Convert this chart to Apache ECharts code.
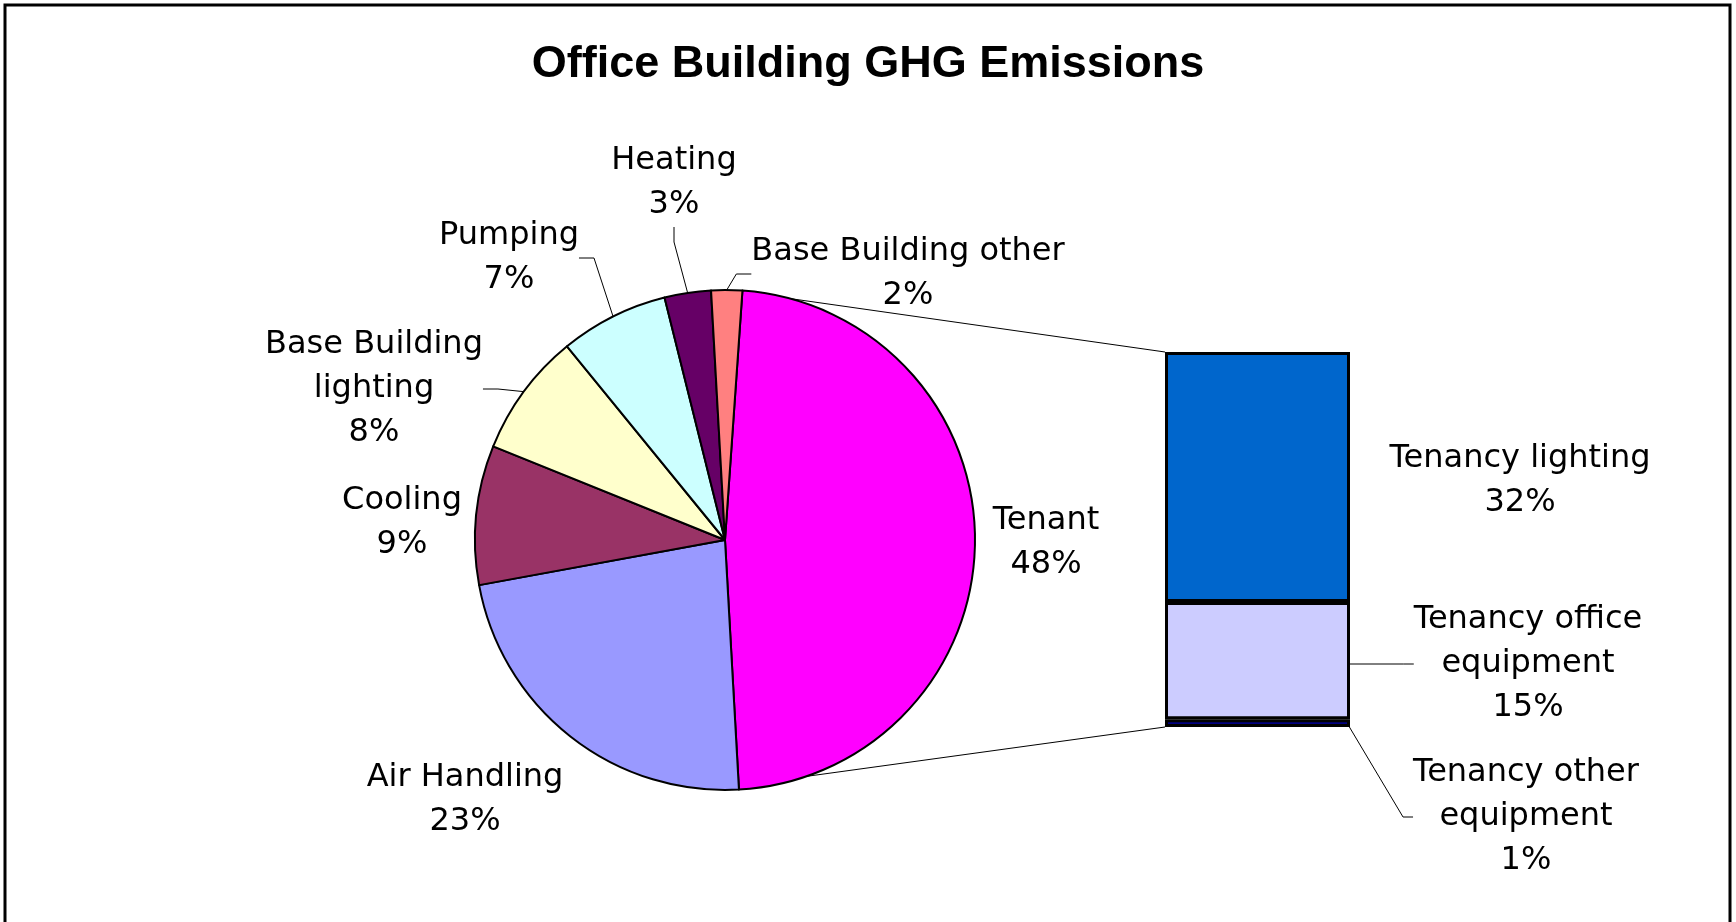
<!DOCTYPE html>
<html>
<head>
<meta charset="utf-8">
<script src="https://cdn.jsdelivr.net/npm/echarts@6/dist/echarts.min.js"></script>
<style>
    html, body { margin: 0; padding: 0; background: #fff; }
    #main { width: 1736px; height: 922px; }
</style>
</head>
<body>
<div id="main"></div>
<script>
// pie: clockwise from Tenant
var pieNames = ['Tenant', 'Air Handling', 'Cooling', 'Base Building\nlighting', 'Pumping', 'Heating', 'Base Building other']
var pieValues = [48, 23, 9, 8, 7, 3, 2]
var pieColors = ['#ff00ff', '#9999ff', '#993366', '#ffffcc', '#ccffff', '#660066', '#ff8080']
var pieLeader = [false, false, false, true, true, true, true]

// tenant breakdown, bottom to top
var barNames = ['Tenancy other\nequipment', 'Tenancy office\nequipment', 'Tenancy lighting']
var barValues = [1, 15, 32]
var barColors = ['#000080', '#ccccff', '#0066cc']
var barLeader = [true, true, false]

// label centres (px)
var pieLabelAt = [[1046, 543], [465, 800], [402, 523], [374, 389], [509, 258], [674, 183], [908, 274]]
var barLabelAt = [[1526, 817], [1528, 664], [1520, 481]]

var pieCenter = [725, 540], pieRadius = 250
var barBox = { left: 1165, top: 352, width: 185, height: 375 }

function labelText() {
    return {
        show: true,
        color: '#000',
        fontFamily: 'DejaVu Sans',
        fontSize: 32,
        lineHeight: 44,
        align: 'center'
    }
}

function onPie(deg) {
    var a = deg * Math.PI / 180
    return [pieCenter[0] + pieRadius * Math.sin(a), pieCenter[1] - pieRadius * Math.cos(a)]
}

var pieData = []
for (var i in pieNames) {
    pieData.push({
        name: pieNames[i],
        value: pieValues[i],
        itemStyle: { color: pieColors[i] },
        labelLine: { show: pieLeader[i] }
    })
}

var barSeries = []
for (var j in barNames) {
    var lab = labelText()
    lab.position = 'right'
    lab.formatter = '{a}\n{c}%'
    barSeries.push({
        name: barNames[j],
        type: 'bar',
        stack: 'tenant',
        barWidth: '100%',
        data: [barValues[j]],
        itemStyle: { color: barColors[j], borderColor: '#000', borderWidth: 3 },
        label: lab,
        labelLine: { show: barLeader[j], length2: 10, lineStyle: { color: '#000', width: 1 } },
        labelLayout: { x: barLabelAt[j][0], y: barLabelAt[j][1], align: 'center', verticalAlign: 'middle' },
        emphasis: { disabled: true }
    })
}

var pieLabel = labelText()
pieLabel.position = 'outside'
pieLabel.formatter = '{b}\n{c}%'

var myChart = echarts.init(document.getElementById('main'))
var topLine = onPie(15), lowLine = onPie(161)
myChart.setOption({
    animation: false,
    backgroundColor: '#fff',
    title: {
        text: 'Office Building GHG Emissions',
        left: 'center',
        top: 42,
        padding: 0,
        textStyle: { fontFamily: 'Liberation Sans', fontWeight: 'bold', fontSize: 45, color: '#000' }
    },
    grid: barBox,
    xAxis: { type: 'category', data: ['Tenant'], show: false },
    yAxis: { type: 'value', min: 0, max: 48, show: false },
    graphic: [
        { type: 'rect', shape: { x: 5, y: 5, width: 1725, height: 960 }, style: { fill: 'none', stroke: '#000', lineWidth: 3 } },
        { type: 'polyline', shape: { points: [topLine, [barBox.left, barBox.top]] }, style: { stroke: '#000', lineWidth: 1 } },
        { type: 'polyline', shape: { points: [lowLine, [barBox.left, barBox.top + barBox.height]] }, style: { stroke: '#000', lineWidth: 1 } }
    ],
    series: [{
        type: 'pie',
        center: pieCenter,
        radius: pieRadius,
        startAngle: 86,
        clockwise: true,
        avoidLabelOverlap: false,
        data: pieData,
        itemStyle: { borderColor: '#000', borderWidth: 2 },
        label: pieLabel,
        labelLine: { length: 10, length2: 15, lineStyle: { color: '#000', width: 1 } },
        labelLayout: function (p) {
            var at = pieLabelAt[p.dataIndex]
            return { x: at[0], y: at[1], align: 'center', verticalAlign: 'middle' }
        },
        emphasis: { disabled: true }
    }].concat(barSeries)
})
</script>
</body>
</html>
